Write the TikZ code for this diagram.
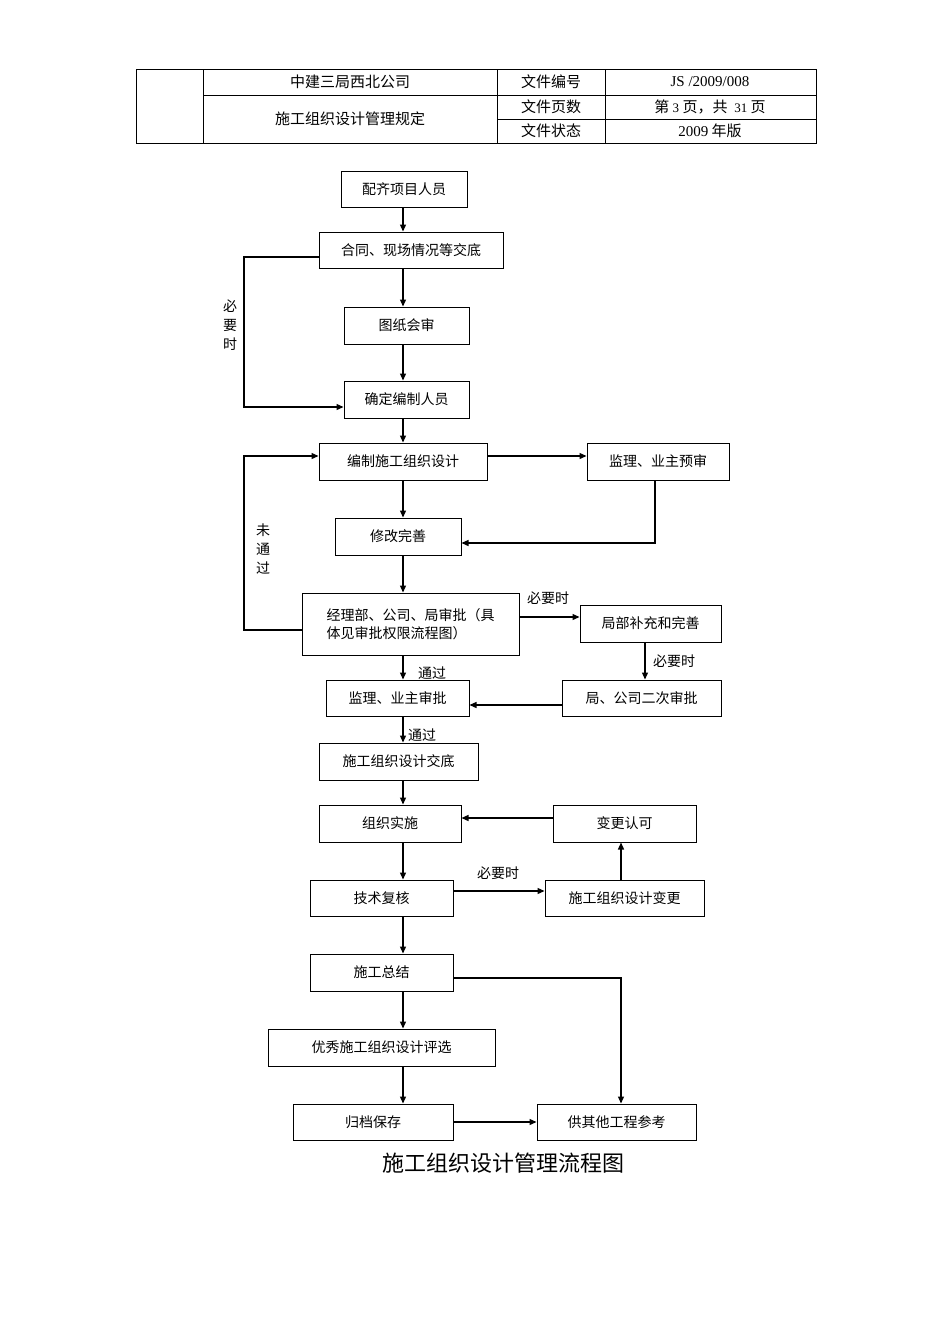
\documentclass[tikz,border=0pt]{standalone}
\usepackage{fontspec}
\setmainfont{Liberation Serif}
\newfontfamily\cjk{Noto Sans CJK SC}
\usetikzlibrary{arrows.meta}
\begin{document}
\begin{tikzpicture}[x=1pt,y=-1pt,
 box/.style={draw,line width=1pt,inner sep=0pt,font=\cjk\fontsize{14}{18}\selectfont},
 ar/.style={line width=1.3pt,-{Triangle[length=7pt,width=6pt]}},
 lb/.style={font=\cjk\fontsize{14}{17}\selectfont},
 ht/.style={font=\cjk\fontsize{15}{18}\selectfont}]
\useasboundingbox (0,0) rectangle (950,1344);
% header
\draw[line width=0.8pt] (136,69) rectangle (816,143);
\draw[line width=0.8pt] (203,69)--(203,143) (497,69)--(497,143) (605,69)--(605,143)
 (203,95)--(816,95) (497,119)--(816,119);
\node[ht] (h1) at (350,82) {中建三局西北公司};
\node[ht] (h2) at (350,119) {施工组织设计管理规定};
\node[ht] (h3) at (551,82) {文件编号};
\node[ht] (h4) at (551,107) {文件页数};
\node[ht] (h5) at (551,131) {文件状态};
\node[font=\fontsize{15}{18}\selectfont] (h6) at (710,82) {JS /2009/008};
\node[ht] (h7) at (710,107) {第 {\fontsize{13}{15}\selectfont\rmfamily 3} 页，共 \ {\fontsize{13}{15}\selectfont\rmfamily 31} 页};
\node[ht] (h8) at (710,131) {{\rmfamily 2009} 年版};
% nodes
\newcommand\bx[6]{\node[box,minimum width=#4-#2,minimum height=#5-#3] (#1) at ({(#2+#4)/2},{(#3+#5)/2}) {#6};}
\bx{n1}{341}{171}{467}{207}{配齐项目人员}
\bx{n2}{319}{232}{503}{268}{合同、现场情况等交底}
\bx{n3}{344}{307}{469}{344}{图纸会审}
\bx{n4}{344}{381}{469}{418}{确定编制人员}
\bx{n5}{319}{443}{487}{480}{编制施工组织设计}
\bx{n6}{587}{443}{729}{480}{监理、业主预审}
\bx{n7}{335}{518}{461}{555}{修改完善}
\node[box,minimum width=217,minimum height=62,align=left] (n8) at (410.5,624) {经理部、公司、局审批（具\\体见审批权限流程图）};
\bx{n9}{580}{605}{721}{642}{局部补充和完善}
\bx{n10}{326}{680}{469}{716}{监理、业主审批}
\bx{n11}{562}{680}{721}{716}{局、公司二次审批}
\bx{n12}{319}{743}{478}{780}{施工组织设计交底}
\bx{n13}{319}{805}{461}{842}{组织实施}
\bx{n14}{553}{805}{696}{842}{变更认可}
\bx{n15}{310}{880}{453}{916}{技术复核}
\bx{n16}{545}{880}{704}{916}{施工组织设计变更}
\bx{n17}{310}{954}{453}{991}{施工总结}
\bx{n18}{268}{1029}{495}{1066}{优秀施工组织设计评选}
\bx{n19}{293}{1104}{453}{1140}{归档保存}
\bx{n20}{537}{1104}{696}{1140}{供其他工程参考}
\node[font=\cjk\fontsize{22}{26}\selectfont] (t) at (503,1163) {施工组织设计管理流程图};
% edges
\draw[ar] (n1.south-|403,0)--(n2.north-|403,0);
\draw[ar] (n2.south-|403,0)--(n3.north-|403,0);
\draw[ar] (n3.south-|403,0)--(n4.north-|403,0);
\draw[ar] (n4.south-|403,0)--(n5.north-|403,0);
\draw[ar] (n2.west|-0,257)--(244,257)--(244,407)--(n4.west|-0,407);
\node[lb,align=center] (l1) at (230,325) {必\\[2pt]要\\[2pt]时};
\draw[ar] (n5.east|-0,456)--(n6.west|-0,456);
\draw[ar] (n6.south-|655,0)--(655,543)--(n7.east|-0,543);
\draw[ar] (n5.south-|403,0)--(n7.north-|403,0);
\draw[ar] (n7.south-|403,0)--(n8.north-|403,0);
\draw[ar] (n8.west|-0,630)--(244,630)--(244,456)--(n5.west|-0,456);
\node[lb,align=center] (l2) at (263,549) {未\\[2pt]通\\[2pt]过};
\draw[ar] (n8.east|-0,617)--(n9.west|-0,617);
\node[lb] (l3) at (548,598) {必要时};
\draw[ar] (n9.south-|645,0)--(n11.north-|645,0);
\node[lb] (l4) at (674,661) {必要时};
\draw[ar] (n11.west|-0,705)--(n10.east|-0,705);
\draw[ar] (n8.south-|403,0)--(n10.north-|403,0);
\node[lb] (l5) at (432,673) {通过};
\draw[ar] (n10.south-|403,0)--(n12.north-|403,0);
\node[lb] (l6) at (422,735) {通过};
\draw[ar] (n12.south-|403,0)--(n13.north-|403,0);
\draw[ar] (n13.south-|403,0)--(n15.north-|403,0);
\draw[ar] (n15.east|-0,891)--(n16.west|-0,891);
\node[lb] (l7) at (498,873) {必要时};
\draw[ar] (n16.north-|621,0)--(n14.south-|621,0);
\draw[ar] (n14.west|-0,818)--(n13.east|-0,818);
\draw[ar] (n15.south-|403,0)--(n17.north-|403,0);
\draw[ar] (n17.south-|403,0)--(n18.north-|403,0);
\draw[ar] (n18.south-|403,0)--(n19.north-|403,0);
\draw[ar] (n17.east|-0,978)--(621,978)--(n20.north-|621,0);
\draw[ar] (n19.east|-0,1122)--(n20.west|-0,1122);
\end{tikzpicture}
\end{document}
